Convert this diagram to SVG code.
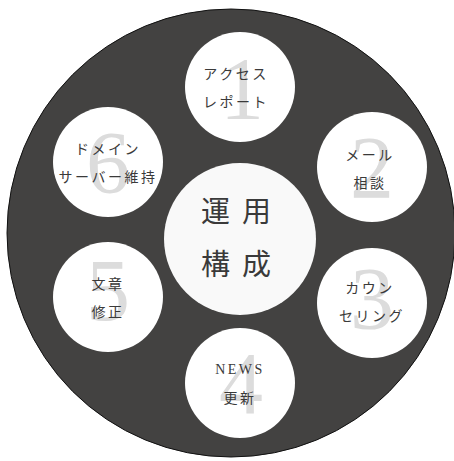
<svg xmlns="http://www.w3.org/2000/svg" width="454" height="461" viewBox="0 0 454 461">
<style>
.bg{fill:#434241;stroke:#111;stroke-width:1}
.sm{fill:#ffffff}
.ctr{fill:#f9f9f9}
.num{font-family:"Liberation Serif",serif;font-size:88px;fill:#dcdcdc;text-anchor:middle}
.lbl{font-family:"Liberation Serif","Noto Sans CJK JP",serif;font-size:14px;fill:#3a3a3a;text-anchor:middle;letter-spacing:2.5px}
.big{font-family:"Liberation Serif","Noto Sans CJK JP",serif;font-size:29px;fill:#3a3a3a;text-anchor:middle;letter-spacing:12px}
</style>
<rect width="454" height="461" fill="#ffffff"/>
<circle class="bg" cx="231" cy="233" r="224"/>
<g id="center">
<circle class="ctr" cx="240" cy="239" r="76"/>
<text class="big" x="242" y="222">運用</text>
<text class="big" x="242" y="275">構成</text>
</g>
<g id="node1">
<circle class="sm" cx="240" cy="87" r="55"/>
<text class="num" x="242" y="118">1</text>
<text class="lbl" x="236" y="79">アクセス</text>
<text class="lbl" x="236" y="107">レポート</text>
</g>
<g id="node2">
<circle class="sm" cx="372" cy="167" r="55"/>
<text class="num" x="372" y="197">2</text>
<text class="lbl" x="370" y="160">メール</text>
<text class="lbl" x="370" y="188">相談</text>
</g>
<g id="node3">
<circle class="sm" cx="372" cy="303" r="55"/>
<text class="num" x="372" y="328">3</text>
<text class="lbl" x="370" y="293">カウン</text>
<text class="lbl" x="372" y="321">セリング</text>
</g>
<g id="node4">
<circle class="sm" cx="240" cy="383" r="55"/>
<text class="num" x="241" y="413">4</text>
<text class="lbl" x="240" y="374">NEWS</text>
<text class="lbl" x="240" y="403">更新</text>
</g>
<g id="node5">
<circle class="sm" cx="108" cy="297" r="55"/>
<text class="num" x="108" y="320">5</text>
<text class="lbl" x="108" y="289">文章</text>
<text class="lbl" x="108" y="317">修正</text>
</g>
<g id="node6">
<circle class="sm" cx="108" cy="162" r="55"/>
<text class="num" x="108" y="192">6</text>
<text class="lbl" x="108" y="154">ドメイン</text>
<text class="lbl" x="108" y="182">サーバー維持</text>
</g>
<g id="connectors"></g>
</svg>
